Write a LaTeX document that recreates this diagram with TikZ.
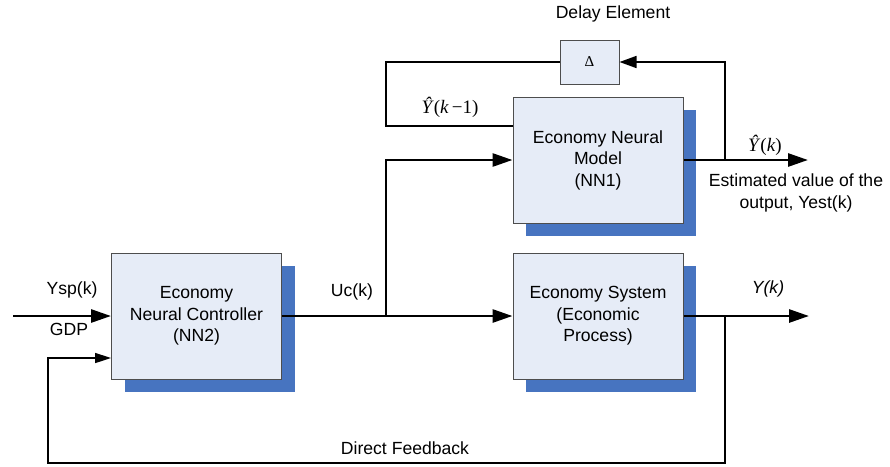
\documentclass[tikz,border=0pt]{standalone}
\usepackage{fontspec}
\setmainfont{Liberation Sans}
\newfontfamily\tms{Liberation Serif}
\usetikzlibrary{arrows.meta,shadows,calc}
\definecolor{boxfill}{RGB}{230,236,247}
\definecolor{shadowblue}{RGB}{71,116,192}
\definecolor{boxline}{RGB}{77,77,77}
\begin{document}
\begin{tikzpicture}[x=1pt,y=-1pt,
  block/.style={draw=boxline, line width=1pt, fill=boxfill, inner sep=0pt,
    minimum width=170pt, minimum height=126pt, align=center,
    font=\fontsize{17.6}{21.5}\selectfont,
    general shadow={fill=shadowblue, shadow xshift=13pt, shadow yshift=-13pt}},
  delaybox/.style={draw=boxline, line width=1pt, fill=boxfill, inner sep=0pt,
    minimum width=59pt, minimum height=44pt, font=\tms\fontsize{15}{18}\selectfont},
  lbl/.style={inner sep=0pt, align=center, font=\fontsize{17.6}{21.5}\selectfont},
  mlbl/.style={inner sep=0pt, font=\tms\fontsize{19}{22}\selectfont},
  thk/.style={line width=2.8pt},
  thn/.style={line width=1.6pt},
  arr/.style={-{Triangle[length=20pt,width=13pt]}},
  arrm/.style={-{Triangle[length=17pt,width=12pt]}},
  arrs/.style={-{Triangle[length=16pt,width=10pt]}}
]
\useasboundingbox (0,0) rectangle (890,466);

% blocks
\node[block] (nn2) at (196.5,316) {Economy\\Neural Controller\\(NN2)};
\node[block] (nn1) at (598,160) {Economy Neural\\Model\\(NN1)};
\node[block] (es) at (598,316) {Economy System\\(Economic\\Process)};
\node[delaybox] (delay) at (589.5,62) {Δ};

% helper coordinates
\coordinate (in) at (13,316);
\coordinate (j1) at (386,316);
\coordinate (b1) at (725,160);
\coordinate (o1) at (808,160);
\coordinate (b2) at (725,316);
\coordinate (o2) at (809,316);
\coordinate (dl) at (386,62);
\coordinate (dl2) at (386,126);
\coordinate (fbr) at (725,463);
\coordinate (fbl) at (48,463);

% connectors
\draw[thk, arr] (in) -- (nn2.west);
\draw[thk, arr] (nn2.east) -- (es.west);
\draw[thk, arr] (j1) |- (nn1.west);
\draw[thk, arr] (nn1.east) -- (o1);
\draw[thn, arrm] (b1) |- (delay.east);
\draw[thn] (delay.west) -- (dl) -- (dl2) -- (nn1.west |- dl2);
\draw[thk, arr] (es.east) -- (o2);
\draw[thn, arrs] (b2) -- (fbr) -- (fbl) |- ($(nn2.west)+(0,42)$);

% labels
\node[lbl] (tdelay) at (613,14) {Delay Element};
\node[mlbl] (tyk1) at (450,107) {\textit{\^Y}(\textit{k}\,−1)};
\node[mlbl] (tyk) at (765,145) {\textit{\^Y}(\textit{k})};
\node[lbl] (test) at (796,193) {Estimated value of the\\output, Yest(k)};
\node[lbl] (tysp) at (72,290) {Ysp(k)};
\node[lbl] (tgdp) at (69,329) {GDP};
\node[lbl] (tuc) at (352,292) {Uc(k)};
\node[lbl] (tyo) at (768,289) {\itshape Y(k)};
\node[lbl] (tfb) at (405,448) {Direct Feedback};
\end{tikzpicture}
\end{document}
